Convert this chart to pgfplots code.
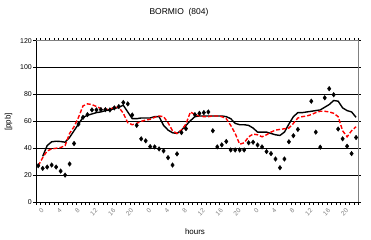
\documentclass[border=0pt]{standalone}
\usepackage{fontspec}
\setmainfont{Liberation Sans}
\usepackage{pgfplots}
\pgfplotsset{compat=1.18}
\begin{document}
\begin{tikzpicture}
\useasboundingbox (-36bp,-38bp) rectangle (335bp,202bp);
\begin{axis}[
  at={(0,0)}, anchor=south west,
  scale only axis, width=322.3bp, height=161.3bp,
  xmin=-0.5, xmax=71.5, ymin=0, ymax=120,
  ytick={0,20,...,120},
  xtick={0,4,...,68},
  xticklabels={0,4,8,12,16,20,0,4,8,12,16,20,0,4,8,12,16,20},
  minor xtick={-0.5,0.5,...,71.5},
  major x tick style={draw=none},
  xticklabel style={rotate=45, anchor=north east, font=\fontsize{6.5}{7}\selectfont, text=gray, inner sep=0.3pt, yshift=-4bp},
  yticklabel style={font=\fontsize{7}{8}\selectfont, inner sep=1.5pt},
  /pgf/number format/assume math mode=true,
  tick align=outside,
  major tick length=2.5bp,
  minor tick length=2.5bp,
  tick style={black, line width=0.5bp},
  ymajorgrids,
  major grid style={black, line width=0.7bp},
  axis line style={draw=none},
  clip=false,
]
\addplot[black, line width=1.4bp] coordinates {
(1,34)(2,42)(3,44.8)(4,45.2)(5,45)(6,44.5)(7,48)(8,53)(9,58)(10,63)(11,64.5)(12,65.5)(13,66.5)(14,67)(15,68)(16,68.5)(17,69.5)(18,70.5)(19,72)(20,67)(21,62)(22,62)(23,62.5)(24,62.5)(25,62.5)(26,63.5)(27,63.5)(28,57)(29,53.5)(30,51.5)(31,51)(32,53.5)(33,57)(34,60.5)(35,63.5)(36,64)(37,64)(38,64)(39,64)(40,64)(41,64)(42,63.5)(43,62)(44,58.5)(45,57.5)(46,57.5)(47,57)(48,55)(49,52)(50,52)(51,52)(52,51)(53,50)(54,49.5)(55,52)(56,58)(57,63.5)(58,66.5)(59,66.5)(60,67)(61,67.5)(62,68)(63,68.5)(64,70.5)(65,72.5)(66,75.5)(67,75)(68,70)(69,68)(70,67)(71,63)
};
\addplot[red, line width=1.4bp, dash pattern=on 4bp off 2bp] coordinates {
(0,27)(1,33)(2,38)(3,39.5)(4,40)(5,40.5)(6,42)(7,51)(8,56)(9,63)(10,71.5)(11,73)(12,72.5)(13,71)(14,69.5)(15,69)(16,69)(17,70.5)(18,70.5)(19,66)(20,59)(21,57.5)(22,58.5)(23,60)(24,61)(25,61.5)(26,63)(27,64)(28,63.5)(29,59)(30,53)(31,51)(32,53.5)(33,58)(34,67)(35,65)(36,64)(37,63.5)(38,63.5)(39,64)(40,64)(41,63.5)(42,62)(43,57)(44,51)(45,43)(46,44)(47,48.5)(48,50.5)(49,50)(50,48.5)(51,50)(52,52)(53,53.5)(54,54)(55,54.5)(56,55)(57,58.5)(58,62.5)(59,63.5)(60,64)(61,65)(62,66.5)(63,67.5)(64,67.5)(65,67)(66,66)(67,63.5)(68,53)(69,48.5)(70,53)(71,56)
};
\addplot[only marks, mark=diamond*, mark size=2.3bp, black] coordinates {
(0,27)(1,25)(2,26)(3,27.5)(4,26)(5,23)(6,20)(7,28.3)(8,43.5)(9,58)(10,63)(11,65)(12,68.5)(13,68.5)(14,68.7)(15,68.7)(16,68.5)(17,70)(18,71)(19,74)(20,73)(21,64.7)(22,57)(23,47)(24,45.5)(25,41.2)(26,41)(27,39.5)(28,38)(29,33)(30,27.5)(31,35.8)(32,51.6)(33,54.6)(35,65)(36,66)(37,66.5)(38,67)(39,53)(40,41)(41,42.5)(42,45)(43,38.7)(44,38.7)(45,38.7)(46,38.7)(47,44)(48,44.5)(49,42.4)(50,41)(51,37.5)(52,36)(53,32)(54,25.5)(55,32)(56,44.8)(57,49.3)(58,54)(61,75)(62,52)(63,40.8)(64,77.5)(65,84.3)(66,79.8)(67,54.3)(68,47)(69,41.5)(70,36)(71,48)
};
\draw[gray, line width=0.7bp] (rel axis cs:0,1) -- (rel axis cs:1,1) -- (rel axis cs:1,0);
\draw[black, line width=0.7bp] (rel axis cs:0,1) -- (rel axis cs:0,0) -- (rel axis cs:1,0);
\end{axis}
\node[font=\fontsize{8.5}{10}\selectfont] at (143bp,189.3bp) {BORMIO\ \ (804)};
\node[font=\fontsize{8}{10}\selectfont] at (159bp,-29.7bp) {hours};
\node[font=\fontsize{8}{10}\selectfont, rotate=90] at (-27.5bp,80bp) {[ppb]};
\end{tikzpicture}
\end{document}
